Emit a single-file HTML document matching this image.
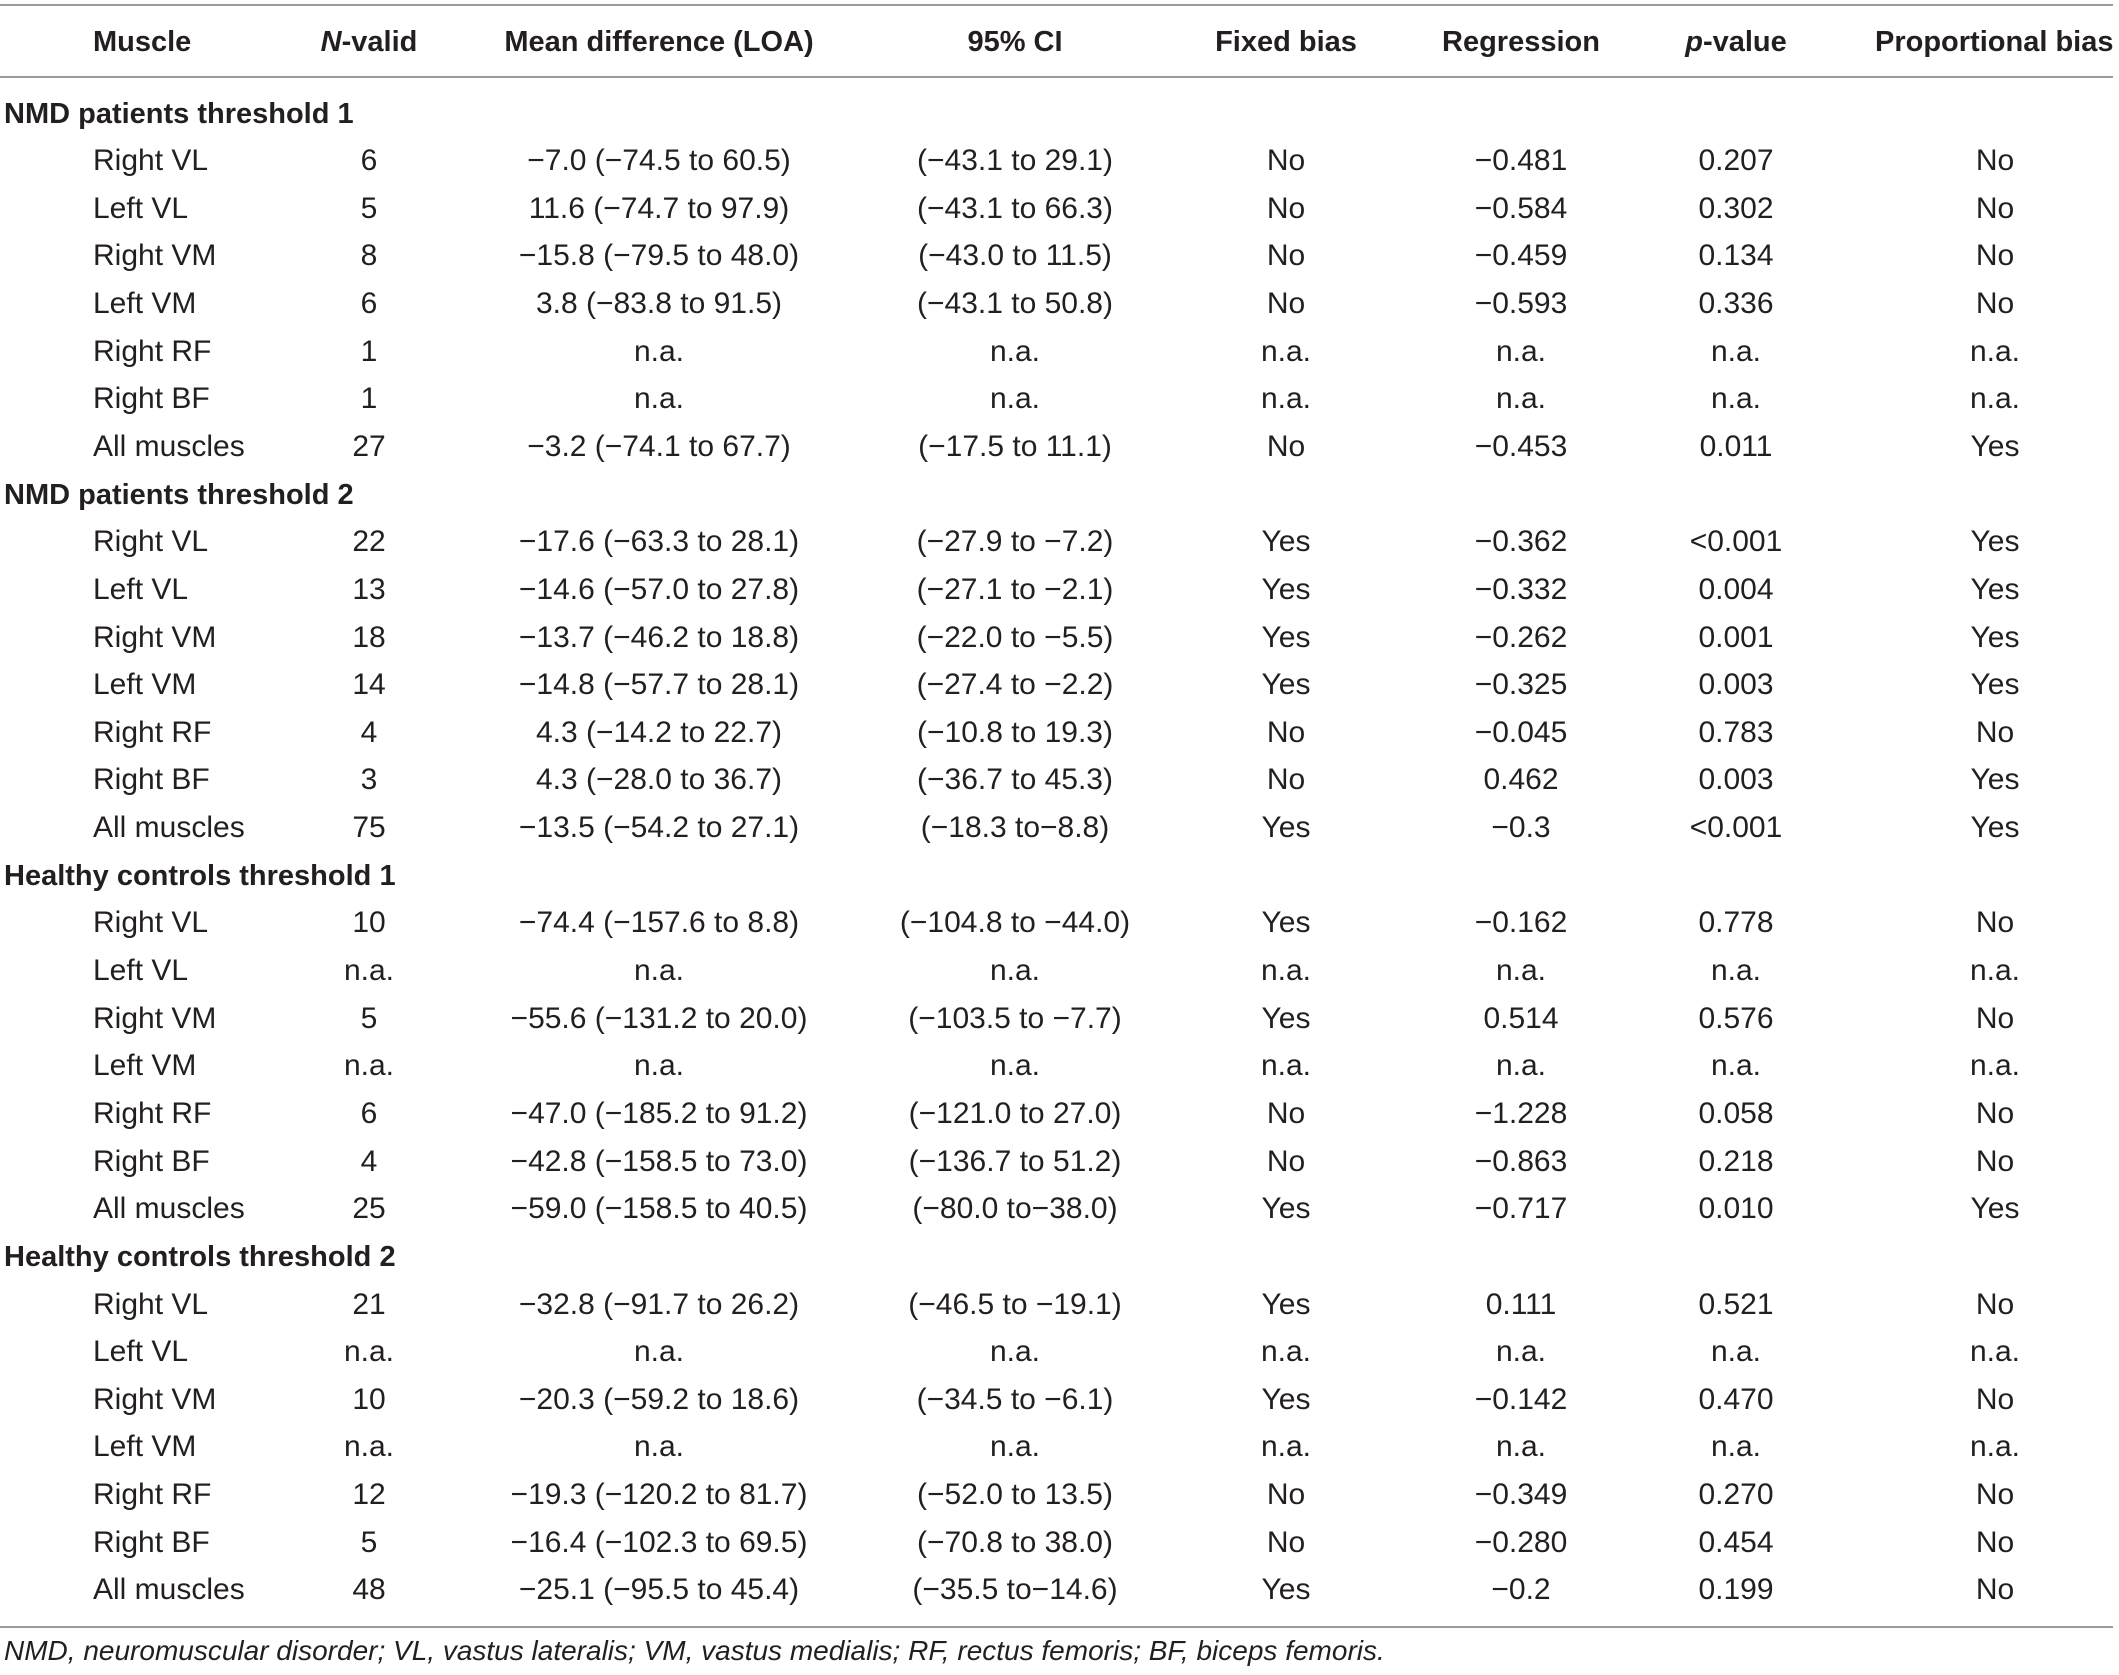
<!DOCTYPE html>
<html><head><meta charset="utf-8">
<style>
html,body{margin:0;padding:0;background:#fff;}
#t{position:relative;width:2119px;height:1675px;overflow:hidden;font-family:"Liberation Sans",Arial,sans-serif;color:#231f20;}
.c{position:absolute;font-size:30px;white-space:nowrap;line-height:32px;letter-spacing:0;}
.h{font-weight:bold;font-size:29px;letter-spacing:0;}
.ln{position:absolute;left:0;width:2113px;height:2px;background:#9a9a9a;}
.fn{position:absolute;left:4px;top:1636px;font-size:28px;font-style:italic;line-height:30px;letter-spacing:0;}
</style></head><body>
<div id="t">
<div class="ln" style="top:4px"></div>
<div class="ln" style="top:76px"></div>
<div class="ln" style="top:1626px"></div>
<div class="fn">NMD, neuromuscular disorder; VL, vastus lateralis; VM, vastus medialis; RF, rectus femoris; BF, biceps femoris.</div>
</div>
<script>
const colX=[93,369,659,1015,1286,1521,1736,1995];
const headers=["Muscle","<i>N</i>-valid","Mean difference (LOA)","95% CI","Fixed bias","Regression","<i>p</i>-value","Proportional bias"];
const groups=["NMD patients threshold 1","NMD patients threshold 2","Healthy controls threshold 1","Healthy controls threshold 2"];
const rows=[
[["Right VL","6","−7.0 (−74.5 to 60.5)","(−43.1 to 29.1)","No","−0.481","0.207","No"],
["Left VL","5","11.6 (−74.7 to 97.9)","(−43.1 to 66.3)","No","−0.584","0.302","No"],
["Right VM","8","−15.8 (−79.5 to 48.0)","(−43.0 to 11.5)","No","−0.459","0.134","No"],
["Left VM","6","3.8 (−83.8 to 91.5)","(−43.1 to 50.8)","No","−0.593","0.336","No"],
["Right RF","1","n.a.","n.a.","n.a.","n.a.","n.a.","n.a."],
["Right BF","1","n.a.","n.a.","n.a.","n.a.","n.a.","n.a."],
["All muscles","27","−3.2 (−74.1 to 67.7)","(−17.5 to 11.1)","No","−0.453","0.011","Yes"]],
[["Right VL","22","−17.6 (−63.3 to 28.1)","(−27.9 to −7.2)","Yes","−0.362","<0.001","Yes"],
["Left VL","13","−14.6 (−57.0 to 27.8)","(−27.1 to −2.1)","Yes","−0.332","0.004","Yes"],
["Right VM","18","−13.7 (−46.2 to 18.8)","(−22.0 to −5.5)","Yes","−0.262","0.001","Yes"],
["Left VM","14","−14.8 (−57.7 to 28.1)","(−27.4 to −2.2)","Yes","−0.325","0.003","Yes"],
["Right RF","4","4.3 (−14.2 to 22.7)","(−10.8 to 19.3)","No","−0.045","0.783","No"],
["Right BF","3","4.3 (−28.0 to 36.7)","(−36.7 to 45.3)","No","0.462","0.003","Yes"],
["All muscles","75","−13.5 (−54.2 to 27.1)","(−18.3 to−8.8)","Yes","−0.3","<0.001","Yes"]],
[["Right VL","10","−74.4 (−157.6 to 8.8)","(−104.8 to −44.0)","Yes","−0.162","0.778","No"],
["Left VL","n.a.","n.a.","n.a.","n.a.","n.a.","n.a.","n.a."],
["Right VM","5","−55.6 (−131.2 to 20.0)","(−103.5 to −7.7)","Yes","0.514","0.576","No"],
["Left VM","n.a.","n.a.","n.a.","n.a.","n.a.","n.a.","n.a."],
["Right RF","6","−47.0 (−185.2 to 91.2)","(−121.0 to 27.0)","No","−1.228","0.058","No"],
["Right BF","4","−42.8 (−158.5 to 73.0)","(−136.7 to 51.2)","No","−0.863","0.218","No"],
["All muscles","25","−59.0 (−158.5 to 40.5)","(−80.0 to−38.0)","Yes","−0.717","0.010","Yes"]],
[["Right VL","21","−32.8 (−91.7 to 26.2)","(−46.5 to −19.1)","Yes","0.111","0.521","No"],
["Left VL","n.a.","n.a.","n.a.","n.a.","n.a.","n.a.","n.a."],
["Right VM","10","−20.3 (−59.2 to 18.6)","(−34.5 to −6.1)","Yes","−0.142","0.470","No"],
["Left VM","n.a.","n.a.","n.a.","n.a.","n.a.","n.a.","n.a."],
["Right RF","12","−19.3 (−120.2 to 81.7)","(−52.0 to 13.5)","No","−0.349","0.270","No"],
["Right BF","5","−16.4 (−102.3 to 69.5)","(−70.8 to 38.0)","No","−0.280","0.454","No"],
["All muscles","48","−25.1 (−95.5 to 45.4)","(−35.5 to−14.6)","Yes","−0.2","0.199","No"]]
];
const T=document.getElementById('t');
function cell(html,x,y,center,cls){
  const d=document.createElement('div');
  d.className='c'+(cls?' '+cls:'');
  d.innerHTML=html;
  d.style.left=x+'px';d.style.top=(y-16)+'px';
  if(center)d.style.transform='translateX(-50%)';
  T.appendChild(d);return d;
}
headers.forEach((h,i)=>{
  const d=cell(h,i==0?93:(i==7?1875:colX[i]),42,i!=0&&i!=7,'h');
  
  
});
const y0=113.5,step=47.64;
let idx=0;
groups.forEach((g,gi)=>{
  const d=cell(g,4,y0+idx*step,false,'h');
  
  
  idx++;
  rows[gi].forEach(r=>{
    r.forEach((v,ci)=>{
      const e=cell(v.replace('<','&lt;'),colX[ci],y0+idx*step,ci!=0);
      
      
    });
    idx++;
  });
});
</script>
</body></html>
